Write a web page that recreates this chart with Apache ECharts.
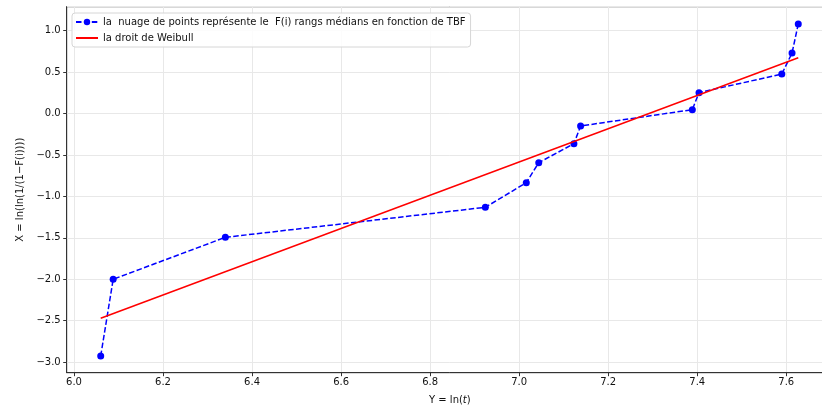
<!DOCTYPE html>
<html>
<head>
<meta charset="utf-8">
<script src="https://cdn.jsdelivr.net/npm/echarts@6/dist/echarts.min.js"></script>
<style>
html,body{margin:0;padding:0;background:#fff;overflow:hidden;width:822px;height:405px;}
#chart{width:833px;height:405px;}
</style>
</head>
<body>
<div id="chart"></div>
<script>
// ln(TBF) values (x axis) and ln(ln(1/(1-F(i)))) values (y axis)
const tbfLog = [6.060, 6.088, 6.340, 6.924, 7.016, 7.044, 7.123, 7.138, 7.389, 7.404, 7.590, 7.613, 7.627];
const rankLog = [-2.925, -2.000, -1.494, -1.132, -0.835, -0.593, -0.364, -0.151, 0.046, 0.251, 0.476, 0.730, 1.080];
// Weibull fitted line end points
const weibullX = [6.060, 7.627];
const weibullY = [-2.470, 0.673];

const seriesNames = [
  'la  nuage de points représente le  F(i) rangs médians en fonction de TBF',
  'la droit de Weibull'
];
const yAxisTitle = 'X = ln(ln(1/(1−F(i))))';

const chart = echarts.init(document.getElementById('chart'), null, {renderer: 'canvas'});
const font = 'DejaVu Sans';

chart.setOption({
  animation: false,
  backgroundColor: '#ffffff',
  textStyle: {fontFamily: font},
  grid: {
    left: 66.7, top: 6.7, bottom: 32.3, right: 0,
    outerBoundsMode: 'none', containLabel: false,
    show: true, borderColor: '#333', borderWidth: 1, backgroundColor: '#fff'
  },
  legend: {
    left: 72, top: 13, orient: 'vertical',
    backgroundColor: 'rgba(255,255,255,0.85)',
    borderColor: '#d6d6d6', borderWidth: 1, borderRadius: 3,
    padding: [4, 5, 4, 3],
    itemGap: 6, itemWidth: 22, itemHeight: 8,
    textStyle: {fontFamily: font, fontSize: 10, color: '#111'},
    data: [
      {name: seriesNames[0]},
      {name: seriesNames[1], itemStyle: {color: 'rgba(0,0,0,0)', borderWidth: 0}}
    ]
  },
  xAxis: {
    type: 'value',
    min: 5.9836, max: 7.705,
    splitNumber: 8,
    name: '{n|Y = ln(}{i|t}{n|)}',
    nameLocation: 'middle', nameGap: 23,
    nameTextStyle: {
      fontFamily: font, fontSize: 10, color: '#111',
      rich: {
        n: {fontFamily: font, fontSize: 10, color: '#111'},
        i: {fontFamily: font, fontSize: 10, color: '#111', fontStyle: 'italic'}
      }
    },
    axisLine: {show: true, onZero: false, lineStyle: {color: '#333', width: 1}},
    axisTick: {show: true, length: 3.5, lineStyle: {color: '#333'}},
    axisLabel: {
      fontFamily: font, fontSize: 10, color: '#111', margin: 5,
      showMinLabel: false, showMaxLabel: false,
      formatter: v => v.toFixed(1)
    },
    splitLine: {show: true, lineStyle: {color: '#e8e8e8', width: 1}}
  },
  yAxis: {
    type: 'value',
    min: -3.127, max: 1.288,
    splitNumber: 9,
    name: yAxisTitle,
    nameLocation: 'middle', nameGap: 40, nameRotate: 90,
    nameTextStyle: {fontFamily: font, fontSize: 10, color: '#111'},
    axisLine: {show: true, onZero: false, lineStyle: {color: '#333', width: 1}},
    axisTick: {show: true, length: 3.5, lineStyle: {color: '#333'}},
    axisLabel: {
      fontFamily: font, fontSize: 10, color: '#111', margin: 6,
      showMinLabel: false, showMaxLabel: false,
      formatter: v => (v < 0 ? '−' : '') + Math.abs(v).toFixed(1)
    },
    splitLine: {show: true, lineStyle: {color: '#e8e8e8', width: 1}}
  },
  series: [
    {
      name: seriesNames[0],
      type: 'line',
      data: tbfLog.map((x, i) => [x, rankLog[i]]),
      symbol: 'circle', symbolSize: 7,
      itemStyle: {color: '#0000ff'},
      lineStyle: {color: '#0000ff', width: 1.5, type: [5.5, 2.4]},
      z: 3
    },
    {
      name: seriesNames[1],
      type: 'line',
      data: weibullX.map((x, i) => [x, weibullY[i]]),
      symbol: 'none',
      itemStyle: {color: '#ff0000'},
      lineStyle: {color: '#ff0000', width: 1.5},
      z: 4
    }
  ]
});
</script>
</body>
</html>
